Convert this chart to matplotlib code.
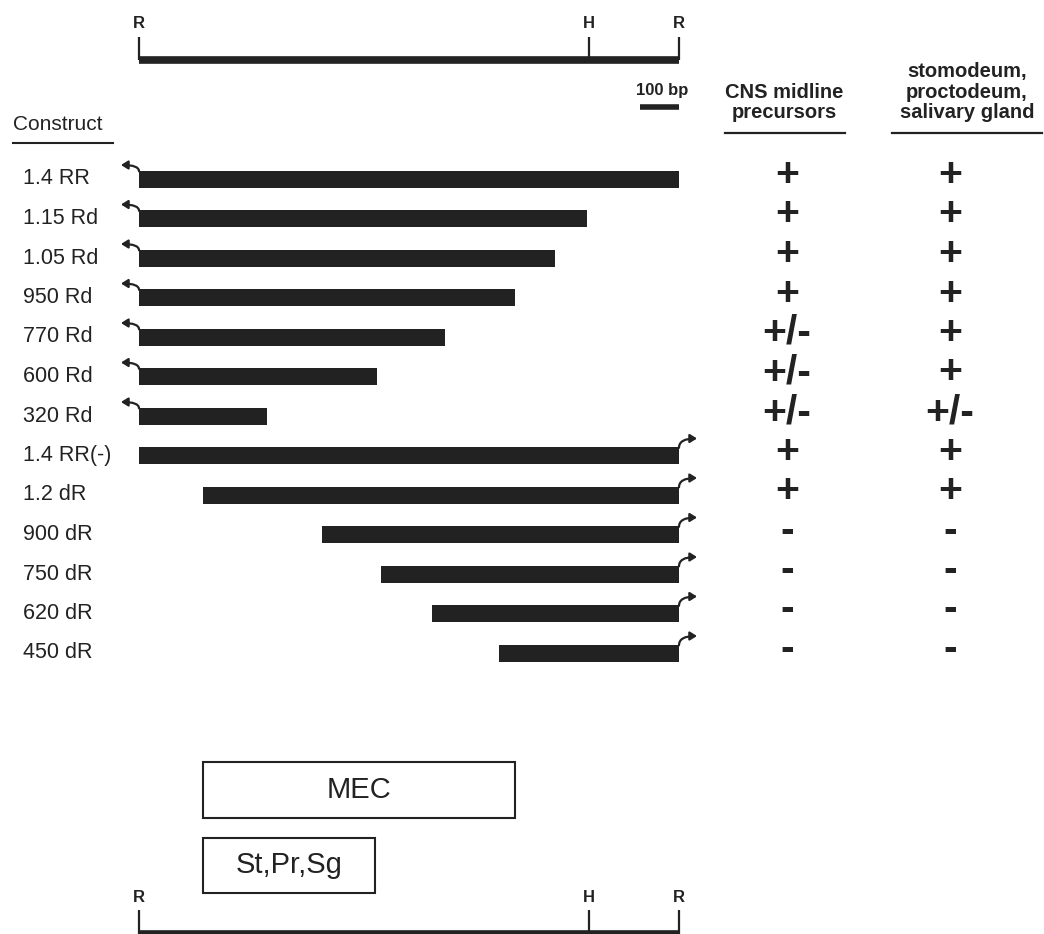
import matplotlib.pyplot as plt
from matplotlib.patches import Rectangle, FancyArrowPatch
import numpy as np

plt.rcParams['font.family'] = ['Liberation Sans', 'DejaVu Sans']

# constructs, top to bottom (bp, 0 = left EcoRI site)
constructs = ["1.4 RR", "1.15 Rd", "1.05 Rd", "950 Rd", "770 Rd", "600 Rd", "320 Rd",
              "1.4 RR(-)", "1.2 dR", "900 dR", "750 dR", "620 dR", "450 dR"]
starts = [0, 0, 0, 0, 0, 0, 0, 0, 166, 474, 627, 760, 933]
ends = [1400, 1161, 1079, 975, 793, 617, 332, 1400, 1400, 1400, 1400, 1400, 1400]
promoter = ["L"] * 7 + ["R"] * 6
cns = ["+", "+", "+", "+", "+/-", "+/-", "+/-", "+", "+", "-", "-", "-", "-"]
stomo = ["+", "+", "+", "+", "+", "+", "+/-", "+", "+", "-", "-", "-", "-"]

sites = ["R", "H", "R"]
site_pos = [0, 1167, 1400]

regions = ["MEC", "St,Pr,Sg"]
reg_start = [166, 166]
reg_end = [975, 612]

INK = '#222222'
ROW_PX = 39.5

# pixel layout helpers (figure is 1044 x 934 px)
def bx(px):
    return (px - 139) * 1400 / 540.0

def ry(py):
    return (py - 179) / ROW_PX

fig = plt.figure(figsize=(10.44, 9.34), dpi=100)
ax = fig.add_axes([0, 0, 1, 1])
ax.set_xlim(bx(0), bx(1044))
ax.set_ylim(ry(934), ry(0))
ax.axis('off')

rows = np.arange(len(constructs))
starts = np.array(starts)
ends = np.array(ends)

# construct bars
ax.barh(rows, ends - starts, left=starts, height=17 / ROW_PX, color=INK)

# promoter arrows
half = 8.5 / ROW_PX
for i, side in enumerate(promoter):
    if side == "L":
        x0 = starts[i]
        tip = (x0 - 18 * 1400 / 540.0, i - 14 / ROW_PX)
    else:
        x0 = ends[i]
        tip = (x0 + 18 * 1400 / 540.0, i - 17 / ROW_PX)
    arr = FancyArrowPatch((x0, i - half + 0.02), tip,
                          connectionstyle="angle3,angleA=90,angleB=0",
                          arrowstyle="-|>,head_length=4,head_width=2.5",
                          lw=1.6, color=INK, shrinkA=0, shrinkB=0)
    ax.add_patch(arr)

# construct labels
for i, name in enumerate(constructs):
    ax.text(bx(23), i, name, ha='left', va='center', fontsize=15.5, color=INK)

ax.text(bx(13), ry(124), "Construct", ha='left', va='center', fontsize=15, color=INK)
ax.plot([bx(13), bx(113)], [ry(143)] * 2, lw=1.5, color=INK)

# expression columns
col_x = [bx(787), bx(950)]
for i in rows:
    for cx, val in zip(col_x, [cns[i], stomo[i]]):
        ax.text(cx, i - 4 / ROW_PX, val, ha='center', va='center', fontsize=29.5,
                fontweight='bold', color=INK)

head1 = ["CNS midline", "precursors"]
head2 = ["stomodeum,", "proctodeum,", "salivary gland"]
for k, line in enumerate(head1):
    ax.text(bx(784), ry(113 - 20.5 * (len(head1) - 1 - k)), line, ha='center', va='center',
            fontsize=14.5, color=INK, fontweight='bold')
for k, line in enumerate(head2):
    ax.text(bx(967), ry(113 - 20.5 * (len(head2) - 1 - k)), line, ha='center', va='center',
            fontsize=14.5, color=INK, fontweight='bold')
ax.plot([bx(725), bx(845)], [ry(133)] * 2, lw=1.6, color=INK)
ax.plot([bx(892), bx(1042)], [ry(133)] * 2, lw=1.6, color=INK)

# restriction maps (top and bottom)
for line_y, tick_top, lab_y in [(60, 37, 24), (934, 910, 897)]:
    ax.plot([site_pos[0], site_pos[-1]], [ry(line_y)] * 2, lw=5.5, color=INK,
            solid_capstyle='butt')
    ax.vlines(site_pos, ry(tick_top), ry(line_y), lw=1.6, color=INK)
    for s, p in zip(sites, site_pos):
        ax.text(p, ry(lab_y), s, ha='center', va='center', fontsize=12,
                fontweight='bold', color=INK)

# scale bar
ax.plot([1400 - 100, 1400], [ry(107)] * 2, lw=4, color=INK, solid_capstyle='butt')
ax.text(bx(662), ry(90), "100 bp", ha='center', va='center', fontsize=12,
        fontweight='bold', color=INK)

# regulatory regions
box_y = [(762, 818), (838, 893)]
for name, s, e, (t, b) in zip(regions, reg_start, reg_end, box_y):
    ax.add_patch(Rectangle((s, ry(t)), e - s, ry(b) - ry(t), fill=False,
                           lw=1.5, ec=INK))
    ax.text((s + e) / 2, (ry(t) + ry(b)) / 2, name, ha='center', va='center',
            fontsize=21, color=INK)

fig.savefig("out.png", dpi=100)
